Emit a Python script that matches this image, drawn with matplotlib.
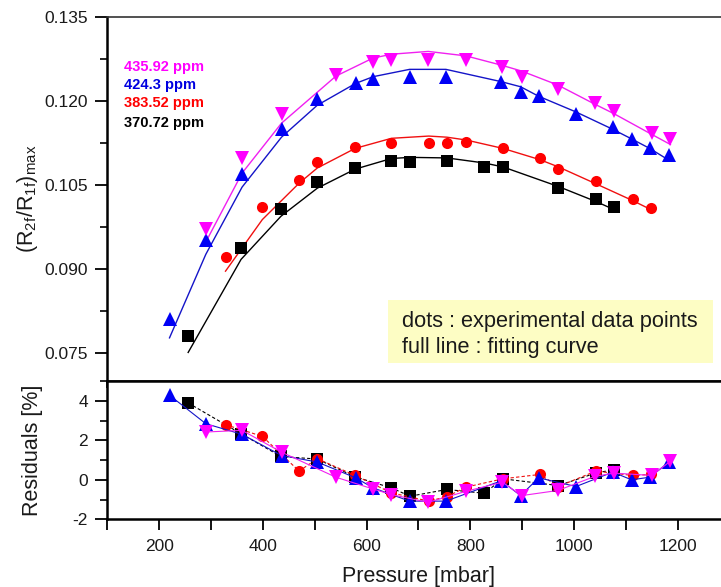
import matplotlib
matplotlib.use("Agg")
import matplotlib.pyplot as plt
from matplotlib.patches import Rectangle
from matplotlib.ticker import MultipleLocator, FormatStrFormatter

plt.rcParams["font.family"] = ["Liberation Sans", "DejaVu Sans"]
plt.rcParams["axes.unicode_minus"] = False

# --- measured ratio, fitted curve and residuals per CO2 concentration ---
P_436 = [290, 360, 436, 541, 612, 648, 719, 792, 862, 899, 969, 1040, 1077, 1150, 1186]
Y_436 = [0.0971, 0.1098, 0.1176, 0.1246, 0.1270, 0.1273, 0.1273, 0.1273, 0.1261, 0.1243,
         0.1221, 0.1196, 0.1181, 0.1142, 0.1132]
FIT_436 = [0.0948, 0.1071, 0.1160, 0.1244, 0.1276, 0.1283, 0.1288, 0.1280, 0.1263, 0.1253,
           0.1228, 0.1194, 0.1177, 0.1140, 0.1122]
RES_436 = [2.42, 2.50, 1.40, 0.13, -0.46, -0.75, -1.14, -0.58, -0.12, -0.80,
           -0.54, 0.17, 0.34, 0.22, 0.94]

P_424 = [220, 290, 360, 436, 505, 579, 613, 683, 753, 860, 897, 932, 1004, 1075, 1111, 1146, 1183]
Y_424 = [0.0810, 0.0952, 0.1070, 0.1149, 0.1203, 0.1232, 0.1238, 0.1242, 0.1242, 0.1233,
         0.1215, 0.1209, 0.1176, 0.1153, 0.1132, 0.1116, 0.1104]
FIT_424 = [0.0777, 0.0926, 0.1046, 0.1135, 0.1192, 0.1231, 0.1243, 0.1256, 0.1256, 0.1234,
           0.1225, 0.1208, 0.1180, 0.1149, 0.1132, 0.1115, 0.1094]
RES_424 = [4.28, 2.84, 2.30, 1.23, 0.90, 0.10, -0.41, -1.08, -1.08, -0.05,
           -0.80, 0.10, -0.34, 0.39, 0.00, 0.13, 0.89]

P_384 = [328, 399, 470, 505, 578, 648, 720, 755, 792, 863, 934, 970, 1042, 1113, 1148]
Y_384 = [0.0921, 0.1010, 0.1058, 0.1091, 0.1117, 0.1125, 0.1125, 0.1125, 0.1126, 0.1116,
         0.1098, 0.1078, 0.1057, 0.1024, 0.1009]
FIT_384 = [0.0896, 0.0988, 0.1053, 0.1080, 0.1115, 0.1133, 0.1137, 0.1135, 0.1130, 0.1115,
           0.1095, 0.1082, 0.1052, 0.1022, 0.1006]
RES_384 = [2.79, 2.20, 0.44, 1.07, 0.22, -0.66, -1.08, -0.85, -0.37, 0.05,
           0.27, -0.34, 0.44, 0.22, 0.27]

P_371 = [256, 358, 435, 505, 578, 648, 684, 755, 827, 863, 970, 1043, 1077]
Y_371 = [0.0780, 0.0938, 0.1006, 0.1055, 0.1080, 0.1092, 0.1090, 0.1093, 0.1082, 0.1082,
         0.1044, 0.1024, 0.1011]
FIT_371 = [0.0751, 0.0917, 0.0994, 0.1044, 0.1078, 0.1097, 0.1099, 0.1098, 0.1089, 0.1082,
           0.1047, 0.1020, 0.1006]
RES_371 = [3.89, 2.33, 1.18, 1.05, 0.15, -0.41, -0.83, -0.49, -0.68, 0.05,
           -0.29, 0.35, 0.51]

LABELS = ["435.92 ppm", "424.3 ppm", "383.52 ppm", "370.72 ppm"]

# (pressure, measured, fit, residual, marker, marker colour, line colour, residual linestyle)
SERIES = [
    (P_371, Y_371, FIT_371, RES_371, "s", "#000000", "#000000", (0, (3, 2))),
    (P_384, Y_384, FIT_384, RES_384, "o", "#FF0000", "#F01010", (0, (3, 2))),
    (P_424, Y_424, FIT_424, RES_424, "^", "#0000F5", "#1414C8", "-"),
    (P_436, Y_436, FIT_436, RES_436, "v", "#FF00FF", "#F020F0", "-"),
]
LABEL_COLORS = ["#FF00FF", "#0000E0", "#FF0000", "#000000"]

TXT = "#1a1a1a"

fig = plt.figure(figsize=(7.21, 5.87), dpi=100)
ax = fig.add_axes([0.1488, 0.3509, 0.8630, 0.6207])
axr = fig.add_axes([0.1488, 0.1153, 0.8630, 0.2356])

for p, y, fit, res, mk, mc, lc, rls in SERIES:
    ms = 8 if mk in ("s", "o") else 9.5
    ax.plot(p, fit, color=lc, lw=1.0, zorder=2)
    ax.plot(p, y, ls="none", marker=mk, ms=ms, color=mc, mec=mc, mew=0, zorder=3)
    axr.plot(p, res, color=lc, lw=0.8, ls=rls, marker=mk, ms=ms, mfc=mc, mec=mc, mew=0)

# main panel
ax.set_xlim(100, 1300)
ax.set_ylim(0.070, 0.135)
ax.yaxis.set_major_locator(MultipleLocator(0.015))
ax.yaxis.set_minor_locator(MultipleLocator(0.0075))
ax.yaxis.set_major_formatter(FormatStrFormatter("%.3f"))
ax.xaxis.set_major_locator(MultipleLocator(100))
ax.tick_params(axis="y", which="major", direction="out", length=9, width=1.3,
               labelsize=12.5, labelcolor=TXT, pad=5)
ax.tick_params(axis="y", which="minor", direction="out", length=5, width=1.2)
ax.tick_params(axis="x", which="major", direction="out", length=5, width=1.2,
               labelbottom=False, bottom=True)
ax.spines["right"].set_visible(False)
ax.spines["top"].set_linewidth(1.2)
ax.spines["top"].set_color("#333333")
for s in ("left", "bottom"):
    ax.spines[s].set_linewidth(1.8)
ax.set_ylabel(r"$\mathregular{(R_{2f}/R_{1f})_{max}}$", fontsize=15.5, color=TXT)
ax.yaxis.set_label_coords(-0.108, 0.5)

for i, (lab, col) in enumerate(zip(LABELS, LABEL_COLORS)):
    ax.text(0.0276, [0.8628, 0.8124, 0.7622, 0.7073][i], lab, transform=ax.transAxes,
            color=col, fontsize=10.5, fontweight="bold", va="center", ha="left")

ax.add_patch(Rectangle((0.451, 0.0494), 0.5225, 0.1729, transform=ax.transAxes,
                       facecolor="#FDFDC4", edgecolor="none", zorder=1))
ax.text(0.4733, 0.149, "dots : experimental data points", transform=ax.transAxes,
        fontsize=15.7, color=TXT, va="baseline", ha="left", zorder=4)
ax.text(0.4733, 0.0769, "full line : fitting curve", transform=ax.transAxes,
        fontsize=15.7, color=TXT, va="baseline", ha="left", zorder=4)

# residual panel
axr.set_xlim(100, 1300)
axr.set_ylim(-2, 5)
axr.xaxis.set_major_locator(MultipleLocator(200))
axr.xaxis.set_minor_locator(MultipleLocator(100))
axr.yaxis.set_major_locator(MultipleLocator(2))
axr.yaxis.set_minor_locator(MultipleLocator(1))
axr.tick_params(axis="x", which="both", direction="out", length=8, width=1.3,
                labelsize=12.5, labelcolor=TXT, pad=6)
axr.tick_params(axis="y", which="major", direction="out", length=9, width=1.3,
                labelsize=12.5, labelcolor=TXT, pad=5)
axr.tick_params(axis="y", which="minor", direction="out", length=5, width=1.2)
axr.spines["right"].set_visible(False)
for s in ("left", "bottom", "top"):
    axr.spines[s].set_linewidth(1.8)
axr.set_ylabel("Residuals [%]", fontsize=15.5, color=TXT)
axr.yaxis.set_label_coords(-0.103, 0.5)
axr.set_xlabel("Pressure [mbar]", fontsize=15.5, color=TXT, labelpad=9)

fig.savefig("out.png", dpi=100)
